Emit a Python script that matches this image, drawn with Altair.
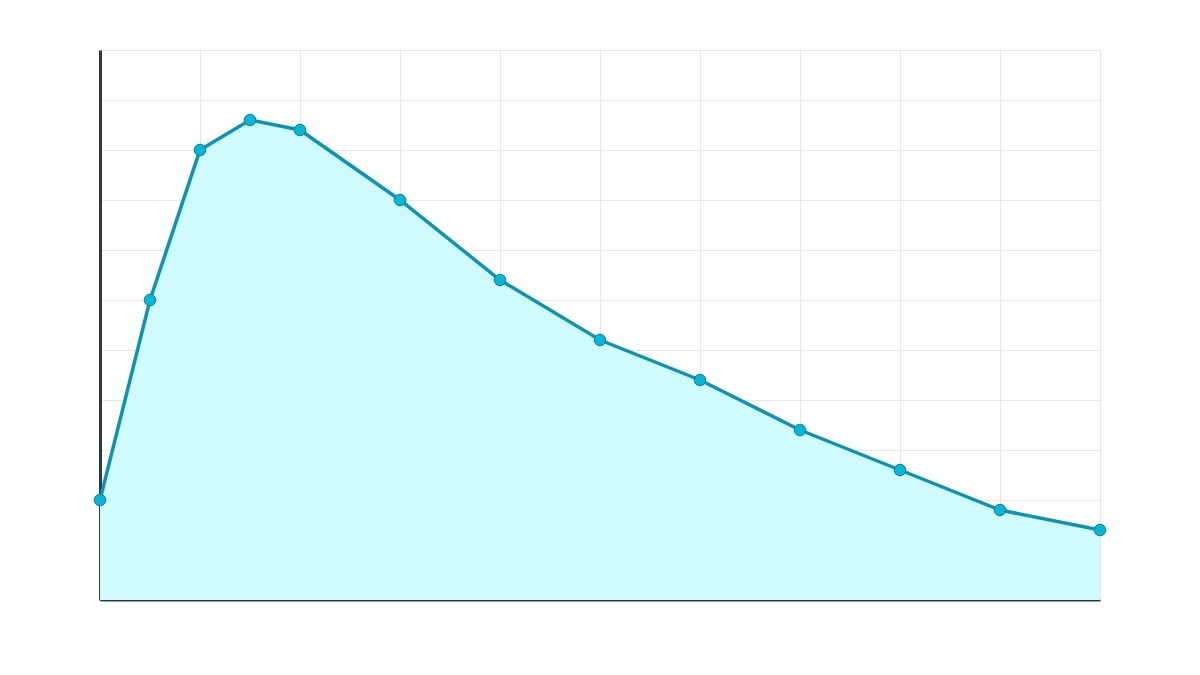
import altair as alt
import pandas as pd

x_vals = [0, 0.5, 1, 1.5, 2, 3, 4, 5, 6, 7, 8, 9, 10]
y_vals = [2.0, 6.0, 9.0, 9.6, 9.4, 8.0, 6.4, 5.2, 4.4, 3.4, 2.6, 1.8, 1.4]

df = pd.DataFrame({"x": x_vals, "y": y_vals})

xs = alt.Scale(domain=[0, 10], nice=False, zero=False)
ys = alt.Scale(domain=[0, 11], nice=False)

x_axis = alt.Axis(title=None, labels=False, ticks=False, grid=True, gridColor="#e6e6e6",
                  domainColor="#2d3748", domainWidth=2, values=list(range(0, 11)))
y_axis = alt.Axis(title=None, labels=False, ticks=False, grid=True, gridColor="#e6e6e6",
                  domainColor="#2d3748", domainWidth=3, values=list(range(0, 12)))

X = alt.X("x:Q", scale=xs, axis=x_axis)
Y = alt.Y("y:Q", scale=ys, axis=y_axis)

area = alt.Chart(df).mark_area(color="#cffafe", opacity=1).encode(x=X, y=Y)
line = alt.Chart(df).mark_line(color="#0e93b0", strokeWidth=3.5).encode(x=X, y=Y)
pts = alt.Chart(df).mark_point(filled=True, fill="#06b6d4", stroke="#0e7f99", strokeWidth=1,
                               size=135, opacity=1).encode(x=X, y=Y)

chart = alt.layer(area, line, pts).properties(
    width=1000, height=550,
    autosize=alt.AutoSizeParams(type="none"),
    padding={"left": 92, "top": 42, "right": 40, "bottom": 40},
).configure_view(stroke=None).configure(background="white")

chart.save("out.html", embed_options={"renderer": "svg", "actions": False})
